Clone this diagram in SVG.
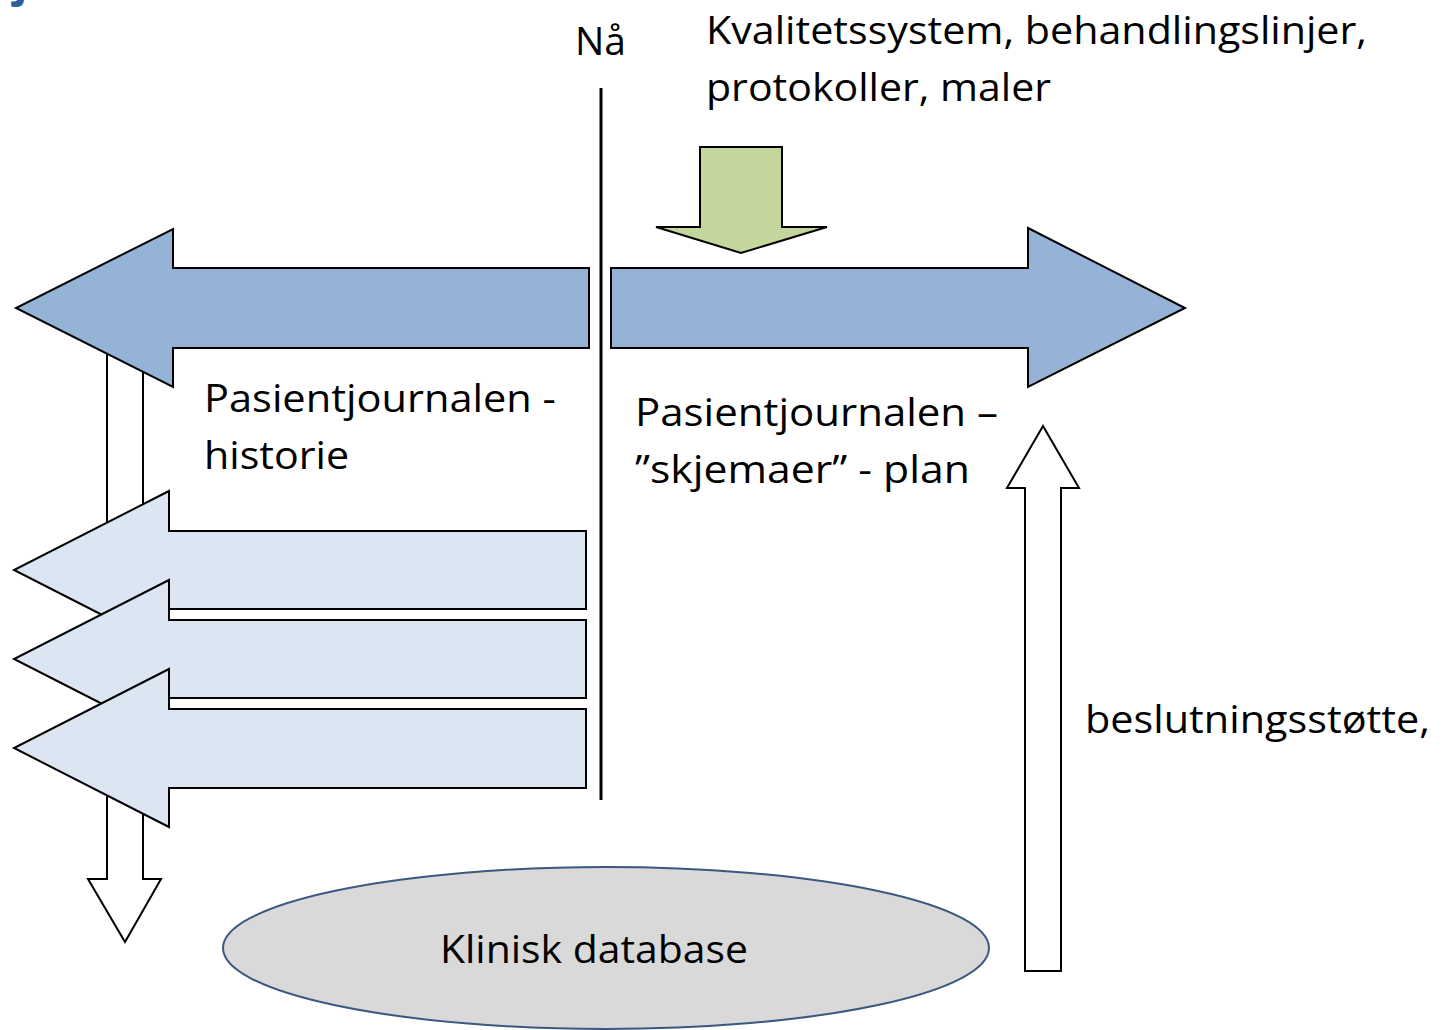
<svg xmlns="http://www.w3.org/2000/svg" width="1445" height="1030" viewBox="0 0 1445 1030">
<style>
.t{font-family:"Open Sans","Liberation Sans",sans-serif;font-size:39px;fill:#000}
.sh{stroke:#000;stroke-width:2;stroke-linejoin:miter}
.dark{fill:#95B3D7}
.light{fill:#DCE6F2}
.white{fill:#FFFFFF}
.green{fill:#C3D69B}
</style>
<rect width="1445" height="1030" fill="#fff"/>
<text x="14" y="-4" font-family="Open Sans, Liberation Sans, sans-serif" font-weight="bold" font-size="44" fill="#2E5E9C">j</text>
<g id="connectors">
<g id="down-arrow-left"><polygon class="sh white" points="107,330 143,330 143,879 161,879 125,942 88,879 107,879"/></g>
<g id="up-arrow-right"><polygon class="sh white" points="1025,971 1061,971 1061,488 1079,488 1043,426 1007,488 1025,488"/></g>
<g id="arrow-history"><polygon class="sh dark" points="589,268 173,268 173,229 16,308 173,387 173,348 589,348"/></g>
<g id="arrow-plan"><polygon class="sh dark" points="611,268 1028,268 1028,228 1185,308 1028,387 1028,348 611,348"/></g>
<g id="arrow-quality"><polygon class="sh green" points="700,147 782,147 782,227 827,227 741,253 656,227 700,227"/></g>
<g id="arrow-light-1"><polygon class="sh light" points="586,531 169,531 169,491 14,570 169,649 169,609 586,609"/></g>
<g id="arrow-light-2"><polygon class="sh light" points="586,620 169,620 169,580 14,659 169,738 169,698 586,698"/></g>
<g id="arrow-light-3"><polygon class="sh light" points="586,709 169,709 169,669 14,748 169,827 169,788 586,788"/></g>
<line x1="601" y1="88" x2="601" y2="800" stroke="#000" stroke-width="3"/>
</g>
<g id="now"><text class="t" x="575" y="55" textLength="51" lengthAdjust="spacingAndGlyphs">Nå</text></g>
<g id="quality-label">
<text class="t" x="706" y="44" textLength="661" lengthAdjust="spacingAndGlyphs">Kvalitetssystem, behandlingslinjer,</text>
<text class="t" x="706" y="101" textLength="345" lengthAdjust="spacingAndGlyphs">protokoller, maler</text>
</g>
<g id="history-label">
<text class="t" x="204" y="412" textLength="352" lengthAdjust="spacingAndGlyphs">Pasientjournalen -</text>
<text class="t" x="204" y="469" textLength="145" lengthAdjust="spacingAndGlyphs">historie</text>
</g>
<g id="plan-label">
<text class="t" x="635" y="426" textLength="363" lengthAdjust="spacingAndGlyphs">Pasientjournalen –</text>
<text class="t" x="635" y="483" textLength="335" lengthAdjust="spacingAndGlyphs">”skjemaer” - plan</text>
</g>
<g id="decision-label"><text class="t" x="1085" y="733" textLength="345" lengthAdjust="spacingAndGlyphs">beslutningsstøtte,</text></g>
<g id="clinical-db">
<ellipse cx="606" cy="948" rx="383" ry="81" fill="#D9D9D9" stroke="#3B5880" stroke-width="2"/>
<text class="t" x="440" y="963" textLength="308" lengthAdjust="spacingAndGlyphs">Klinisk database</text>
</g>
</svg>
